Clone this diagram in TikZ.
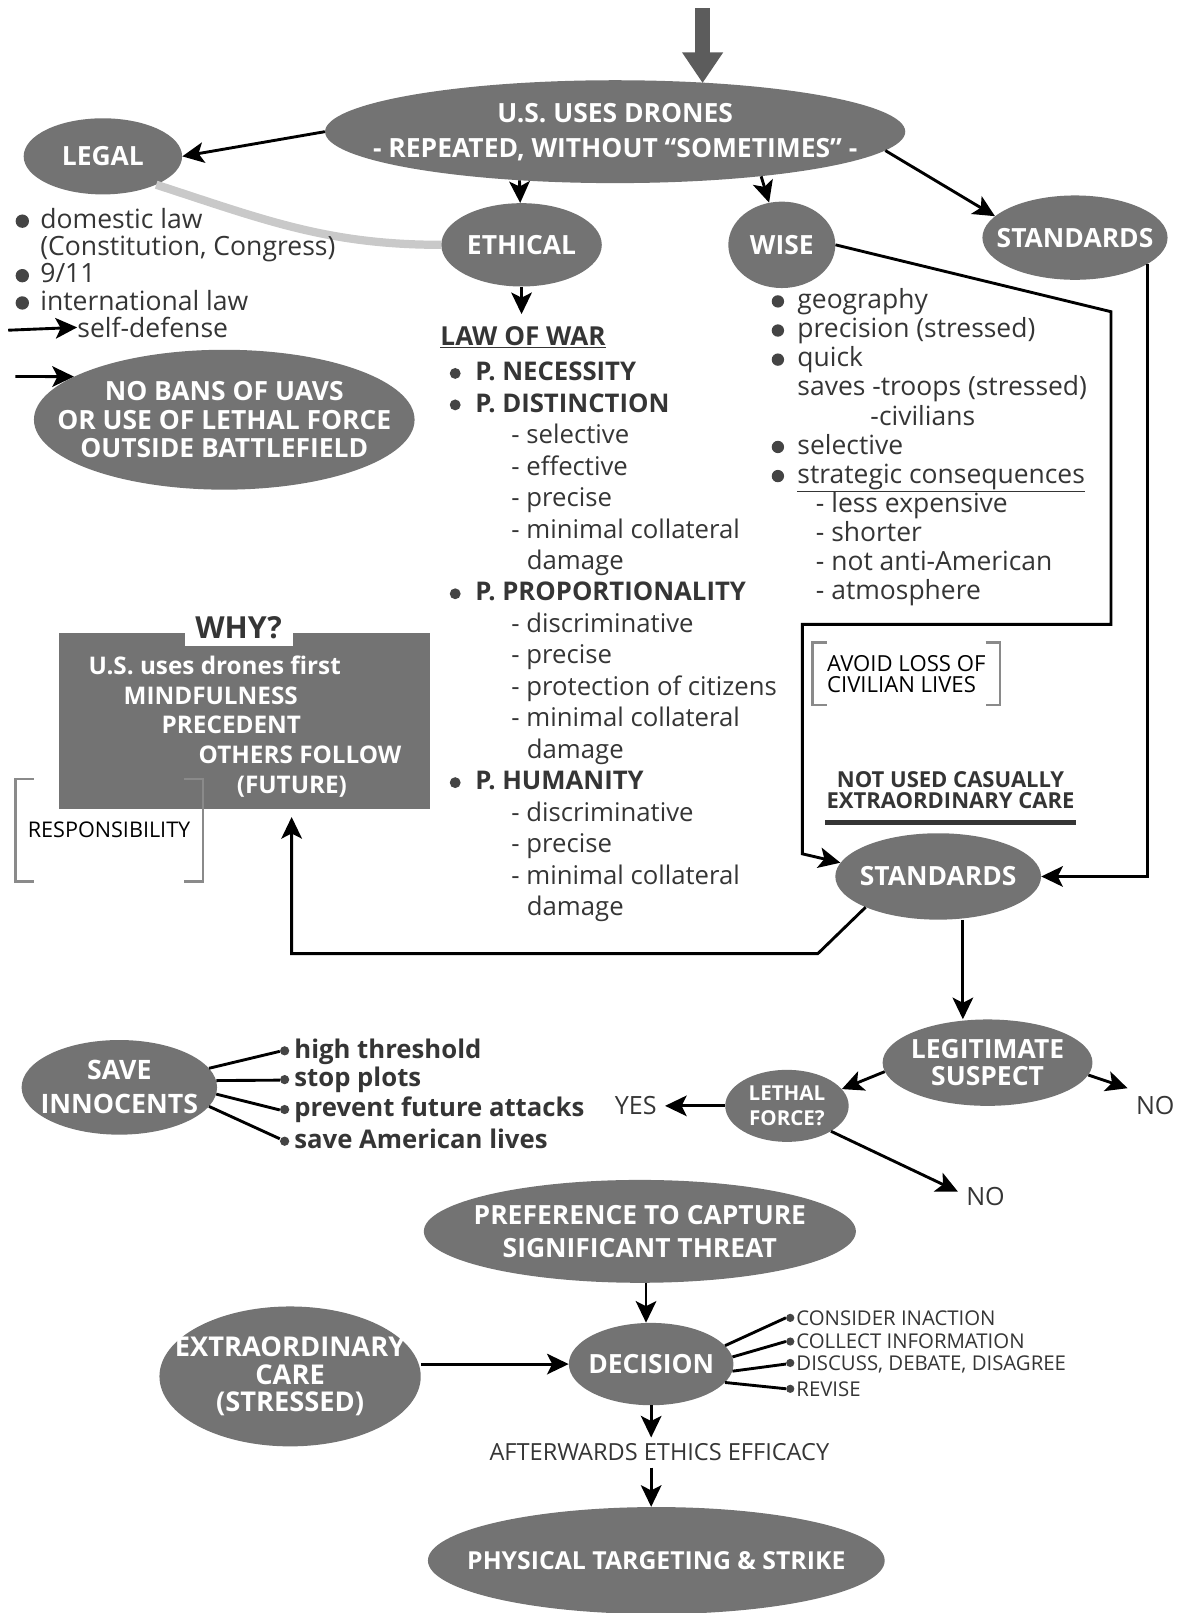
\documentclass[tikz,border=0pt]{standalone}
\usepackage{fontspec}
\setmainfont{Open Sans}
\usetikzlibrary{shapes.geometric,arrows.meta}
\definecolor{blobgray}{HTML}{737373}
\definecolor{feedgray}{HTML}{5C5C5C}
\definecolor{inkgray}{HTML}{353535}
\definecolor{dotgray}{HTML}{444444}
\definecolor{linkgray}{HTML}{C9C9C9}
\definecolor{brackgray}{HTML}{8A8A8A}
\newcommand\inside[1]{\makebox[0pt]{\vbox{\let\\\cr\lineskiplimit=-100pt\halign{\hfil##\hfil\cr#1\crcr}}}}
\newcommand\listing[1]{\vtop{\let\\\cr\lineskiplimit=-100pt\halign{##\hfil\cr#1\crcr}}}
\newcommand\bul[2][24pt]{\makebox[#1][l]{\raisebox{7pt}{\tikz[baseline=0pt]\fill[dotgray] (0,0) circle (#2);}}}
\newcommand\dotb[2][14pt]{\makebox[#1][l]{\raisebox{7pt}{\tikz[baseline=0pt]\fill[dotgray] (0,0) circle (#2);}}}
\tikzset{
  blob/.style={ellipse, fill=blobgray, text=white, inner sep=0pt,
    font=\bfseries\fontsize{25.7}{30}\selectfont},
  flow/.style={-{Stealth[length=21pt,width=20pt,inset=5pt]}, line width=2.8pt},
  feed/.style={-{Triangle[length=30pt,width=38pt]}, line width=14pt, feedgray},
  link/.style={line width=8pt, linkgray},
  note/.style={text=inkgray, inner sep=0pt, font=\fontsize{25.8}{26.5}\selectfont},
  brack/.style={line width=2.5pt, brackgray},
  tiny/.style={text=black, inner sep=0pt, font=\fontsize{21.5}{20}\selectfont},
  answer/.style={text=inkgray, inner sep=8pt, font=\fontsize{24.4}{24}\selectfont},
  spoke/.style={line width=2.8pt},
  item/.style={anchor=west, inner sep=0pt, text=inkgray}
}
\begin{document}
\begin{tikzpicture}[x=1pt,y=-1pt]
\useasboundingbox (0,0) rectangle (1149,1568);

\node[blob, minimum width=564pt, minimum height=100pt, font=\bfseries\fontsize{25.7}{34}\selectfont] (drones) at (598,128)
  {\inside{U.S. USES DRONES\\- REPEATED, WITHOUT “SOMETIMES” -}};
\node[blob, minimum width=154pt, minimum height=74pt] (legal) at (100,152) {\inside{LEGAL}};
\node[blob, minimum width=156pt, minimum height=81pt] (ethical) at (507,238) {\inside{ETHICAL}};
\node[blob, minimum width=104pt, minimum height=84pt] (wise) at (760,238) {\inside{WISE}};
\node[blob, minimum width=180pt, minimum height=82pt] (stdtop) at (1045,231) {\inside{STANDARDS}};
\node[blob, minimum width=370pt, minimum height=136pt, font=\bfseries\fontsize{25.7}{28}\selectfont] (nobans) at (218,408)
  {\inside{NO BANS OF UAVS\\OR USE OF LETHAL FORCE\\OUTSIDE BATTLEFIELD}};
\node[blob, minimum width=200pt, minimum height=84pt] (stdmid) at (912,852) {\inside{STANDARDS}};
\node[blob, minimum width=204pt, minimum height=84pt, font=\bfseries\fontsize{25.7}{26}\selectfont] (legit) at (960,1033)
  {\inside{LEGITIMATE\\SUSPECT}};
\node[blob, minimum width=120pt, minimum height=70pt, font=\bfseries\fontsize{20}{24}\selectfont] (lethal) at (765,1075)
  {\inside{LETHAL\\FORCE?}};
\node[blob, minimum width=190pt, minimum height=92pt, font=\bfseries\fontsize{26}{33}\selectfont] (save) at (116,1057)
  {\inside{SAVE\\INNOCENTS}};
\node[blob, minimum width=420pt, minimum height=100pt, font=\bfseries\fontsize{25.7}{32}\selectfont] (pref) at (622,1197)
  {\inside{PREFERENCE TO CAPTURE\\SIGNIFICANT THREAT}};
\node[blob, minimum width=254pt, minimum height=136pt, font=\bfseries\fontsize{26.5}{27}\selectfont] (extra) at (282,1338)
  {\inside{EXTRAORDINARY\\CARE\\(STRESSED)}};
\node[blob, minimum width=160pt, minimum height=80pt] (decision) at (633,1326) {\inside{DECISION}};
\node[blob, minimum width=444pt, minimum height=104pt, font=\bfseries\fontsize{24.1}{30}\selectfont] (strike) at (638,1517)
  {\inside{PHYSICAL TARGETING \& STRIKE}};

\coordinate (entry) at (683,8);
\draw[feed] (entry) -- ([yshift=-3pt]entry |- drones.north);
\draw[flow] (drones.west) -- (legal.east);
\draw[flow] (drones.-153) -- (ethical);
\draw[flow] (drones.-17) -- (wise);
\draw[flow] (drones.-4) -- (stdtop.165);
\draw[link] (legal.-28) to[out=-18,in=180] (ethical.west);

\node[note, anchor=base west] (lawlist) at (15,222)
  {\listing{\bul{6.5pt}domestic law\\\hspace*{24pt}(Constitution, Congress)\\\bul{6.5pt}9/11\\\bul{6.5pt}international law}};
\node[note, anchor=base west] (selfdef) at (75,328) {self-defense};
\coordinate (sdtail) at (8,321);
\draw[flow] (sdtail) -- (selfdef.west);
\coordinate (nbtail) at (15,366);
\draw[flow] (nbtail) -- (nobans.164);

\node[note, anchor=base west, font=\bfseries\fontsize{25.4}{26}\selectfont] (war) at (428,336) {\underline{LAW OF WAR}};
\draw[flow, shorten >=12pt] (ethical.south) -- (ethical.south |- war.north);
\node[note, anchor=base west, font=\fontsize{25}{30.6}\selectfont] (warlist) at (437,370) {\listing{%
  \bul[25pt]{5.3pt}\textbf{P. NECESSITY}\\
  \bul[25pt]{5.3pt}\textbf{P. DISTINCTION}\\
  \hspace*{60pt}- selective\\
  \hspace*{60pt}- effective\\
  \hspace*{60pt}- precise\\
  \hspace*{60pt}- minimal collateral\\
  \hspace*{75pt}damage\\
  \bul[25pt]{5.3pt}\textbf{P. PROPORTIONALITY}\\
  \hspace*{60pt}- discriminative\\
  \hspace*{60pt}- precise\\
  \hspace*{60pt}- protection of citizens\\
  \hspace*{60pt}- minimal collateral\\
  \hspace*{75pt}damage\\
  \bul[25pt]{5.3pt}\textbf{P. HUMANITY}\\
  \hspace*{60pt}- discriminative\\
  \hspace*{60pt}- precise\\
  \hspace*{60pt}- minimal collateral\\
  \hspace*{75pt}damage}};

\node[note, anchor=base west, font=\fontsize{25.7}{28.3}\selectfont] (wiselist) at (750,300) {\listing{%
  \bul[25pt]{6pt}geography\\
  \bul[25pt]{6pt}precision (stressed)\\
  \bul[25pt]{6pt}quick\\
  \hspace*{25pt}saves -troops (stressed)\\
  \hspace*{96pt}-civilians\\
  \bul[25pt]{6pt}selective\\
  \bul[25pt]{6pt}\underline{strategic consequences}\\
  \hspace*{43pt}- less expensive\\
  \hspace*{43pt}- shorter\\
  \hspace*{43pt}- not anti-American\\
  \hspace*{43pt}- atmosphere}};

\draw[flow] (wise.east) -- (1080,303) -- (1080,607) -- (780,607) -- (780,830) -- (stdmid.172);
\draw[flow] (stdtop.-20) |- (stdmid.east);

\node[tiny, minimum width=182pt, minimum height=60pt] (avoid) at (881,655) {\listing{AVOID LOSS OF\\CIVILIAN LIVES}};
\draw[brack] ([xshift=14pt]avoid.north west) -- (avoid.north west) -- (avoid.south west) -- ([xshift=14pt]avoid.south west);
\draw[brack] ([xshift=-14pt]avoid.north east) -- (avoid.north east) -- (avoid.south east) -- ([xshift=-14pt]avoid.south east);

\node[note, align=center, font=\bfseries\fontsize{21.4}{21}\selectfont, inner xsep=1pt] (casual) at (924,768)
  {NOT USED CASUALLY\\EXTRAORDINARY CARE};
\draw[line width=4pt, inkgray] ([yshift=-13pt]casual.south west) -- ([yshift=-13pt]casual.south east);

\node[fill=blobgray, minimum width=361pt, minimum height=171pt, inner sep=0pt] (why) at (237.5,700.5) {};
\node[fill=white, minimum width=105pt, minimum height=36pt, inner sep=0pt, text=inkgray,
  font=\bfseries\fontsize{29.5}{29.5}\selectfont] (whytitle) at (232,610) {WHY?};
\node[anchor=base west, inner sep=0pt, text=white, font=\bfseries\fontsize{23.6}{28.75}\selectfont] (whytext) at (86,656)
  {\listing{U.S. uses drones first\\\hspace*{34pt}MINDFULNESS\\\hspace*{71pt}PRECEDENT\\\hspace*{107pt}OTHERS FOLLOW\\\hspace*{144pt}(FUTURE)}};
\node[tiny, font=\fontsize{21}{21}\selectfont, minimum width=182pt, minimum height=99pt] (resp) at (106,807) {RESPONSIBILITY};
\draw[brack] ([xshift=18pt]resp.north west) -- (resp.north west) -- (resp.south west) -- ([xshift=18pt]resp.south west);
\draw[brack] ([xshift=-18pt]resp.north east) -- (resp.north east) -- (resp.south east) -- ([xshift=-18pt]resp.south east);
\draw[flow, shorten >=8pt] (stdmid.-157) -- (795,927) -| ([xshift=46pt]why.south);

\draw[flow] ([xshift=24pt]stdmid.south) -- ([xshift=-24pt]legit.north);
\draw[flow] (legit.185) -- (lethal.17);
\node[answer] (no1) at (1123,1075) {NO};
\draw[flow] (legit.-7) -- (no1.north west);
\node[answer] (yes) at (618,1075) {YES};
\draw[flow] (lethal.west) -- (yes.east);
\node[answer] (no2) at (958,1163) {NO};
\draw[flow] (lethal.-30) -- (no2.170);

\node[item, font=\bfseries\fontsize{25}{26}\selectfont] (hi) at (272,1022) {\dotb{4.5pt}high threshold};
\node[item, font=\bfseries\fontsize{25}{26}\selectfont] (stop) at (272,1050) {\dotb{4.5pt}stop plots};
\node[item, font=\bfseries\fontsize{25}{26}\selectfont] (prevent) at (272,1079) {\dotb{4.5pt}prevent future attacks};
\node[item, font=\bfseries\fontsize{25}{26}\selectfont] (lives) at (272,1107) {\dotb{4.5pt}save American lives};
\draw[spoke] (save.12) -- (hi.west);
\draw[spoke] (save.4) -- (stop.west);
\draw[spoke] (save.-4) -- (prevent.west);
\draw[spoke] (save.-12) -- (lives.west);

\draw[flow] ([xshift=6pt]pref.south) -- ([xshift=-5pt]decision.north);
\draw[flow] (extra.east |- decision.west) -- (decision.west);
\node[item, font=\fontsize{19.8}{19}\selectfont] (inaction) at (764,1281) {\dotb[10pt]{4pt}CONSIDER INACTION};
\node[item, font=\fontsize{19.8}{19}\selectfont] (collect) at (764,1304) {\dotb[10pt]{4pt}COLLECT INFORMATION};
\node[item, font=\fontsize{19.8}{19}\selectfont] (discuss) at (764,1326) {\dotb[10pt]{4pt}DISCUSS, DEBATE, DISAGREE};
\node[item, font=\fontsize{19.8}{19}\selectfont] (revise) at (764,1350) {\dotb[10pt]{4pt}REVISE};
\draw[spoke] (decision.14) -- (inaction.west);
\draw[spoke] (decision.5) -- (collect.west);
\draw[spoke] (decision.-5) -- (discuss.west);
\draw[spoke] (decision.-14) -- (revise.west);

\node[answer, inner sep=6pt, font=\fontsize{22.9}{21}\selectfont] (after) at (641,1412) {AFTERWARDS ETHICS EFFICACY};
\draw[flow] (decision.south) -- (decision.south |- after.north);
\draw[flow] (after.south -| decision.south) -- (strike.north -| decision.south);
\end{tikzpicture}
\end{document}
